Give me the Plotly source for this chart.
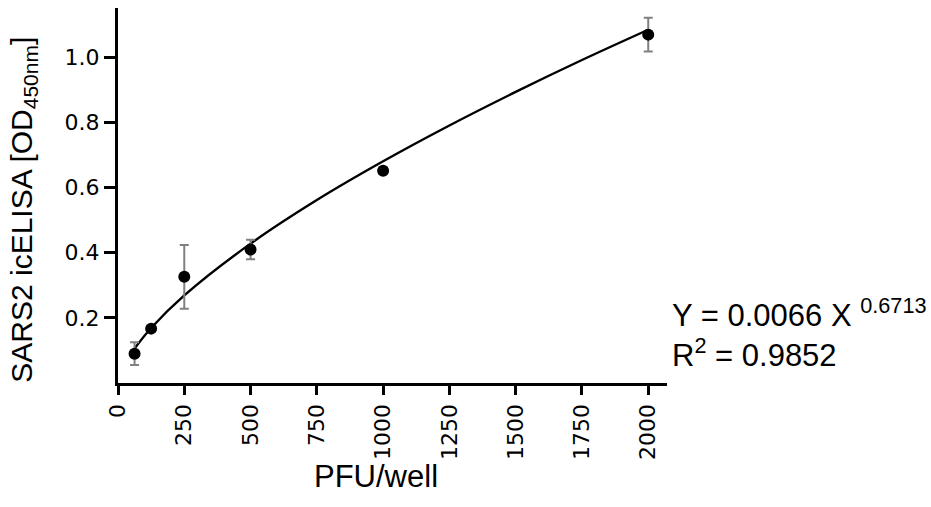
import plotly.graph_objects as go

# Data
pfu = [62.5, 125, 250, 500, 1000, 2000]
od = [0.09, 0.167, 0.326, 0.41, 0.652, 1.07]
od_err = [0.035, 0.008, 0.098, 0.03, 0.01, 0.052]

# Fitted curve
fit_x = [62.5, 125, 250, 500, 750, 1000, 1250, 1500, 1750, 2000]
fit_y = [0.106, 0.169, 0.269, 0.428, 0.562, 0.681, 0.791, 0.894, 0.992, 1.085]

x_ticks = [0, 250, 500, 750, 1000, 1250, 1500, 1750, 2000]
y_ticks = [0.2, 0.4, 0.6, 0.8, 1.0]

W, H = 931, 507
L, R, T, B = 117.5, 667.3, 8.3, 383.5

def px(xp):
    return (xp - L) / (R - L)

def py(yp):
    return (B - yp) / (B - T)

fig = go.Figure()
fig.add_trace(go.Scatter(
    x=fit_x, y=fit_y, mode="lines", line=dict(color="black", width=2.4, shape="spline"),
    showlegend=False, hoverinfo="skip"))
fig.add_trace(go.Scatter(
    x=pfu, y=od, mode="markers",
    marker=dict(color="black", size=12, symbol="circle"),
    error_y=dict(type="data", array=od_err, visible=True, color="#808080", thickness=2, width=4.5),
    showlegend=False))

font_ticks = dict(family="DejaVu Sans", size=22, color="black")
fig.update_layout(
    width=W, height=H,
    margin=dict(l=L, r=W - R, t=T, b=H - B, pad=0),
    paper_bgcolor="white", plot_bgcolor="white",
    xaxis=dict(range=[0, (R - L) / 0.2655], tickvals=x_ticks, ticktext=[str(v) for v in x_ticks],
               tickangle=-90, showline=True, linecolor="black", linewidth=3.3,
               ticks="outside", ticklen=9, tickwidth=3, tickcolor="black",
               showgrid=False, zeroline=False, tickfont=font_ticks, automargin=False),
    yaxis=dict(range=[0, (B - T) / 325.75], tickvals=y_ticks, ticktext=["0.2", "0.4", "0.6", "0.8", "1.0"],
               showline=True, linecolor="black", linewidth=3.3,
               ticks="outside", ticklen=11, tickwidth=3, tickcolor="black",
               showgrid=False, zeroline=False, tickfont=font_ticks, automargin=False),
)

title_font = dict(family="Liberation Sans, Arial", size=30, color="black")
fig.add_annotation(text="SARS2 icELISA [OD<sub>450nm</sub>]", textangle=-90,
                   xref="paper", yref="paper", x=px(22.5), y=py(210),
                   xanchor="center", yanchor="middle", showarrow=False, font=title_font)
fig.add_annotation(text="PFU/well", xref="paper", yref="paper", x=px(376), y=py(477),
                   xanchor="center", yanchor="middle", showarrow=False,
                   font=dict(family="Liberation Sans, Arial", size=31, color="black"))
ann_font = dict(family="Liberation Sans, Arial", size=31, color="black")
fig.add_annotation(text="Y = 0.0066 X <sup>0.6713</sup>",
                   xref="paper", yref="paper", x=px(670), y=py(313),
                   xanchor="left", yanchor="middle", showarrow=False, font=ann_font)
fig.add_annotation(text="R<sup>2</sup> = 0.9852",
                   xref="paper", yref="paper", x=px(670), y=py(353),
                   xanchor="left", yanchor="middle", showarrow=False, font=ann_font)

fig.write_html("out.html", config={"displayModeBar": False},
               post_script="document.body.style.margin='0';")
